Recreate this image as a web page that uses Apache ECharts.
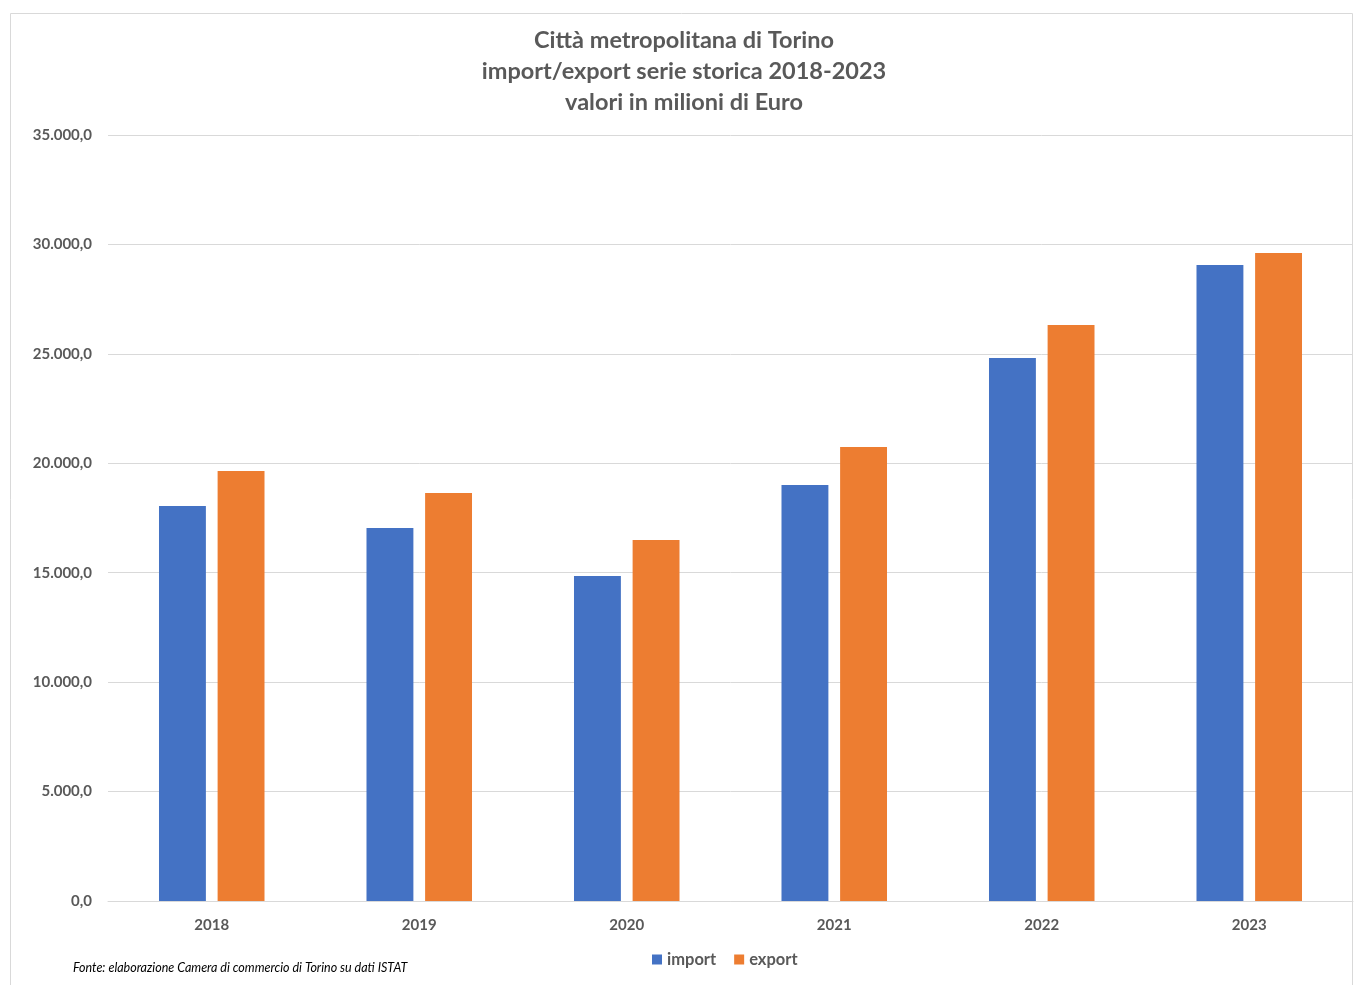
<!DOCTYPE html>
<html><head><meta charset="utf-8">
<script src="https://cdn.jsdelivr.net/npm/echarts@6/dist/echarts.min.js"></script>
<style>html,body{margin:0;padding:0;background:#fff}#c{width:1354px;height:985px}</style>
</head><body><div id="c"></div>
<script>
const categories = ['2018','2019','2020','2021','2022','2023'];
const importValues = [18050, 17040, 14850, 19010, 24810, 29060];
const exportValues = [19650, 18640, 16500, 20740, 26320, 29610];
const yTicks = [0, 5000, 10000, 15000, 20000, 25000, 30000, 35000];

function fmt(v){
  const s = Math.round(v).toString().replace(/\B(?=(\d{3})+(?!\d))/g,'.');
  return s + ',0';
}
const chart = echarts.init(document.getElementById('c'));
const FONT = 'Lato, "Open Sans", sans-serif';
chart.setOption({
  animation:false,
  textStyle:{fontFamily:FONT},
  title:{
    text:'Città metropolitana di Torino\nimport/export serie storica 2018-2023\nvalori in milioni di Euro',
    left:679, top:20, textAlign:'center',
    textStyle:{fontSize:23.5, fontWeight:'bold', color:'#595959', lineHeight:31, fontFamily:FONT}
  },
  graphic:[
    {type:'rect', shape:{x:10.5,y:13.5,width:1342,height:1000}, style:{fill:'none', stroke:'#d9d9d9', lineWidth:1}, silent:true},
    {type:'text', left:73, top:961, style:{text:'Fonte: elaborazione Camera di commercio di Torino su dati ISTAT', font:'italic 12.5px '+FONT, fill:'#000'}}
  ],
  legend:{
    data:['import','export'], left:647, top:946, itemWidth:10, itemHeight:10, itemGap:18,
    icon:'rect', textStyle:{fontSize:16.5, color:'#595959', fontWeight:'bold', fontFamily:FONT}
  },
  grid:{left:108, right:1, top:135, bottom:84, containLabel:false},
  xAxis:{
    type:'category', data:categories,
    axisLine:{lineStyle:{color:'#d9d9d9'}}, axisTick:{show:false},
    axisLabel:{fontSize:15, fontWeight:'bold', color:'#595959', margin:17}
  },
  yAxis:{
    type:'value', min:0, max:35000, interval:5000,
    axisLine:{show:false}, axisTick:{show:false},
    splitLine:{lineStyle:{color:'#d9d9d9'}},
    axisLabel:{fontSize:15, fontWeight:'bold', color:'#595959', margin:16, formatter:fmt}
  },
  series:[
    {name:'import', type:'bar', data:importValues, barWidth:'22.6%', barGap:'25%', itemStyle:{color:'#4472c4'}},
    {name:'export', type:'bar', data:exportValues, barWidth:'22.6%', itemStyle:{color:'#ed7d31'}}
  ]
});
</script></body></html>
